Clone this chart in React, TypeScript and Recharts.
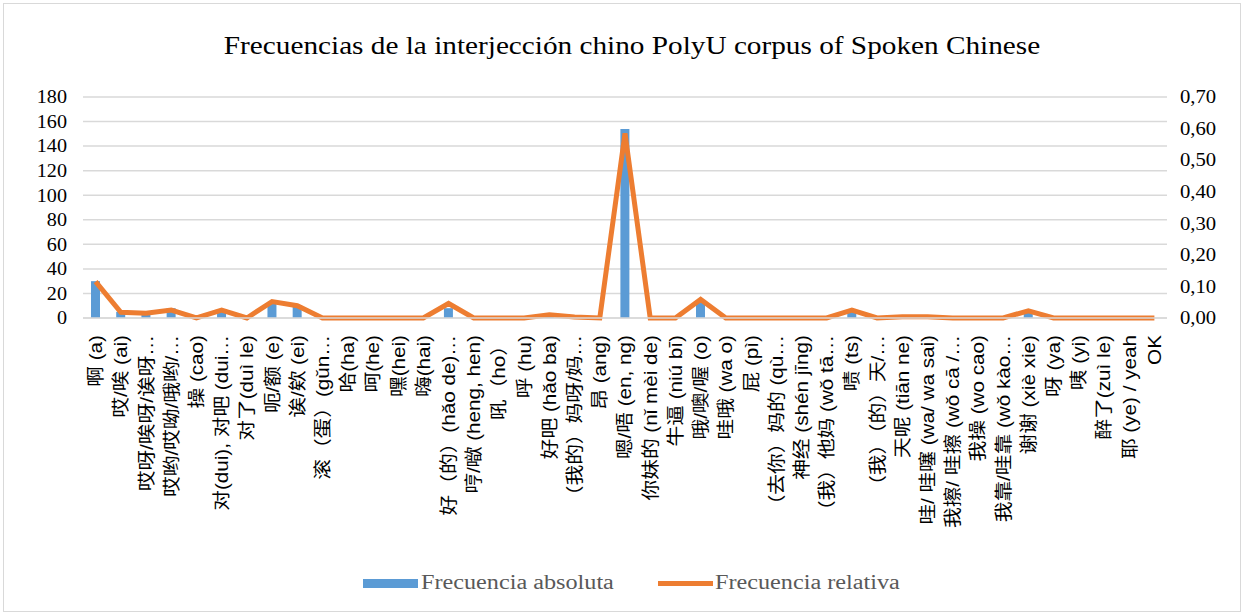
import React from "react";
import {
  ComposedChart,
  Bar,
  Line,
  XAxis,
  YAxis,
  CartesianGrid,
} from "recharts";

const categories = [
  "啊 (a)",
  "哎/唉 (ai)",
  "哎呀/唉呀/诶呀…",
  "哎哟/哎呦/哦哟/…",
  "操 (cao)",
  "对(dui), 对吧 (dui…",
  "对了(duì le)",
  "呃/额 (e)",
  "诶/欸 (ei)",
  "滚（蛋）(gǔn…",
  "哈(ha)",
  "呵(he)",
  "嘿(hei)",
  "嗨(hai)",
  "好（的）(hǎo de)…",
  "哼/噷 (heng, hen)",
  "吼（ho）",
  "呼 (hu)",
  "好吧 (hǎo ba)",
  "（我的）妈呀/妈…",
  "昂 (ang)",
  "嗯/唔 (en, ng)",
  "你妹的 (nǐ mèi de)",
  "牛逼 (niú bī)",
  "哦/噢/喔 (o)",
  "哇哦 (wa o)",
  "屁 (pì)",
  "（去你）妈的 (qù…",
  "神经 (shén jīng)",
  "（我）他妈 (wǒ tā…",
  "啧 (ts)",
  "（我）（的）天/…",
  "天呢 (tiān ne)",
  "哇/ 哇噻 (wa/ wa sai)",
  "我擦/ 哇擦 (wǒ cā /…",
  "我操 (wo cao)",
  "我靠/哇靠 (wǒ kào…",
  "谢谢 (xiè xie)",
  "呀 (ya)",
  "咦 (yi)",
  "醉了(zuì le)",
  "耶 (ye) / yeah",
  "OK",
];

const absoluta = [
  30, 5, 4, 8, 0, 6, 0, 12, 9, 0, 0, 0, 0, 0, 8, 0, 0, 0, 2, 1, 0, 154, 0, 0,
  13, 0, 0, 0, 0, 0, 6, 0, 1, 1, 0, 0, 0, 6, 0, 0, 0, 0, 0,
];

const relativa = [
  0.115, 0.018, 0.015, 0.025, 0, 0.025, 0, 0.052, 0.039, 0, 0, 0, 0, 0, 0.046,
  0, 0, 0, 0.01, 0.003, 0, 0.585, 0, 0, 0.059, 0, 0, 0, 0, 0, 0.025, 0, 0.004,
  0.004, 0, 0, 0, 0.023, 0, 0, 0, 0, 0,
];

const leftTicks = [0, 20, 40, 60, 80, 100, 120, 140, 160, 180];
const rightTicks = [0, 0.1, 0.2, 0.3, 0.4, 0.5, 0.6, 0.7];

const data = categories.map((name, i) => ({
  name,
  abs: absoluta[i],
  rel: relativa[i],
}));

const serif = "'Liberation Serif', 'Times New Roman', serif";
const sans = "'Liberation Sans', Arial, 'Noto Sans CJK SC', sans-serif";

function CategoryTick(props: any) {
  const { x, y, payload } = props;
  return (
    <g transform={`translate(${x},${y + 9}) rotate(-90) scale(1.15,1)`}>
      <text
        x={0}
        y={0}
        dy="0.36em"
        textAnchor="end"
        fontFamily={sans}
        fontSize={18}
        fill="#000"
      >
        {payload.value}
      </text>
    </g>
  );
}

function LeftTick(props: any) {
  const { x, y, payload } = props;
  return (
    <text
      x={x}
      y={y}
      dy="0.35em"
      textAnchor="end"
      fontFamily={serif}
      fontSize={18}
      fill="#000"
      transform={`translate(${x},0) scale(1.12,1) translate(${-x},0)`}
    >
      {payload.value}
    </text>
  );
}

function RightTick(props: any) {
  const { x, y, payload } = props;
  return (
    <text
      x={x}
      y={y}
      dy="0.35em"
      textAnchor="start"
      fontFamily={serif}
      fontSize={18}
      fill="#000"
      transform={`translate(${x},0) scale(1.15,1) translate(${-x},0)`}
    >
      {payload.value.toFixed(2).replace(".", ",")}
    </text>
  );
}

export default function App() {
  return (
    <div
      style={{
        position: "absolute",
        left: 0,
        top: 0,
        width: 1244,
        height: 614,
        background: "#fff",
      }}
    >
      <div
        style={{
          position: "absolute",
          left: 3,
          top: 3,
          width: 1236,
          height: 607,
          border: "1px solid #d9d9d9",
        }}
      />
      <div
        style={{
          position: "absolute",
          left: 0,
          top: 32,
          width: 1264,
          textAlign: "center",
          fontFamily: serif,
          fontSize: 25,
          color: "#000",
          transform: "scaleX(1.17)",
          transformOrigin: "632px 0",
          whiteSpace: "nowrap",
        }}
      >
        Frecuencias de la interjección chino PolyU corpus of Spoken Chinese
      </div>
      <div style={{ position: "absolute", left: 0, top: 0 }}>
        <ComposedChart
          width={1244}
          height={614}
          data={data}
          margin={{ top: 97, right: 17, left: 23, bottom: 56 }}
          barCategoryGap={0}
        >
          <CartesianGrid
            yAxisId="left"
            vertical={false}
            stroke="#d9d9d9"
            strokeWidth={1.5}
          />
          <XAxis
            dataKey="name"
            interval={0}
            height={240}
            tick={<CategoryTick />}
            tickLine={false}
            axisLine={{ stroke: "#d9d9d9", strokeWidth: 1.5 }}
          />
          <YAxis
            yAxisId="left"
            orientation="left"
            width={60}
            domain={[0, 180]}
            ticks={leftTicks}
            interval={0}
            tickLine={false}
            axisLine={false}
            tickSize={0}
            tickMargin={16}
            tick={<LeftTick />}
          />
          <YAxis
            yAxisId="right"
            orientation="right"
            width={60}
            domain={[0, 0.7]}
            ticks={rightTicks}
            interval={0}
            tickLine={false}
            axisLine={false}
            tickSize={0}
            tickMargin={13}
            tick={<RightTick />}
          />
          <Bar
            yAxisId="left"
            dataKey="abs"
            fill="#5b9bd5"
            barSize={9}
            isAnimationActive={false}
          />
          <Line
            yAxisId="right"
            type="linear"
            dataKey="rel"
            stroke="#ed7d31"
            strokeWidth={5}
            dot={false}
            activeDot={false}
            isAnimationActive={false}
          />
        </ComposedChart>
      </div>
      <div
        style={{
          position: "absolute",
          left: 0,
          top: 571,
          width: 1244,
          height: 24,
          fontFamily: serif,
          fontSize: 20,
          color: "#595959",
        }}
      >
        <span style={{ position: "absolute", left: 363, top: 8, width: 55, height: 9, background: "#5b9bd5" }} />
        <span
          style={{
            position: "absolute",
            left: 421,
            top: 0,
            whiteSpace: "nowrap",
            transform: "scaleX(1.21)",
            transformOrigin: "0 0",
          }}
        >
          Frecuencia absoluta
        </span>
        <span style={{ position: "absolute", left: 658, top: 10, width: 55, height: 5, background: "#ed7d31" }} />
        <span
          style={{
            position: "absolute",
            left: 715,
            top: 0,
            whiteSpace: "nowrap",
            transform: "scaleX(1.21)",
            transformOrigin: "0 0",
          }}
        >
          Frecuencia relativa
        </span>
      </div>
    </div>
  );
}
